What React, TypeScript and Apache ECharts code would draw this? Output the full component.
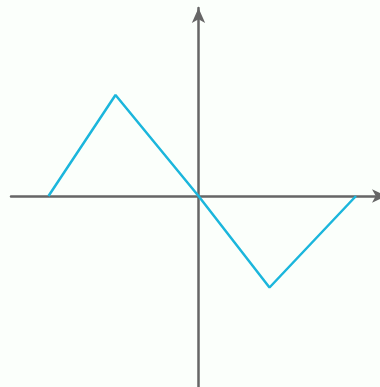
import React, { useEffect, useRef } from "react";
import * as echarts from "echarts";

// x/y values in chart units (1 unit ≈ 10px in the reference)
const xValues = [-15.0, -8.3, 0, 7.1, 15.75];
const yValues = [0, 10.1, 0, -9.15, 0];

const xMin = -18.75;
const xMax = 18.85;
const yMin = -19.1;
const yMax = 18.8;

export default function App() {
  const ref = useRef<HTMLDivElement>(null);
  useEffect(() => {
    if (!ref.current) return;
    const chart = echarts.init(ref.current, undefined, { renderer: "svg" });
    const axisLine = {
      show: true,
      onZero: true,
      symbol: ["none", "arrow"],
      symbolSize: [10, 15],
      lineStyle: { color: "#666666", width: 2.5 },
    };
    chart.setOption({
      animation: false,
      backgroundColor: "#fbfffb",
      grid: {
        left: 11,
        right: -7,
        top: 8,
        bottom: 0,
        outerBoundsMode: "none",
      },
      xAxis: {
        type: "value",
        min: xMin,
        max: xMax,
        axisLine,
        axisTick: { show: false },
        axisLabel: { show: false },
        splitLine: { show: false },
      },
      yAxis: {
        type: "value",
        min: yMin,
        max: yMax,
        axisLine,
        axisTick: { show: false },
        axisLabel: { show: false },
        splitLine: { show: false },
      },
      series: [
        {
          type: "line",
          data: xValues.map((x, i) => [x, yValues[i]]),
          showSymbol: false,
          symbol: "none",
          lineStyle: { color: "#1bb6dc", width: 2.5 },
        },
      ],
    });
    return () => chart.dispose();
  }, []);
  return (
    <div
      ref={ref}
      style={{ position: "fixed", left: 0, top: 0, width: 380, height: 387 }}
    />
  );
}
